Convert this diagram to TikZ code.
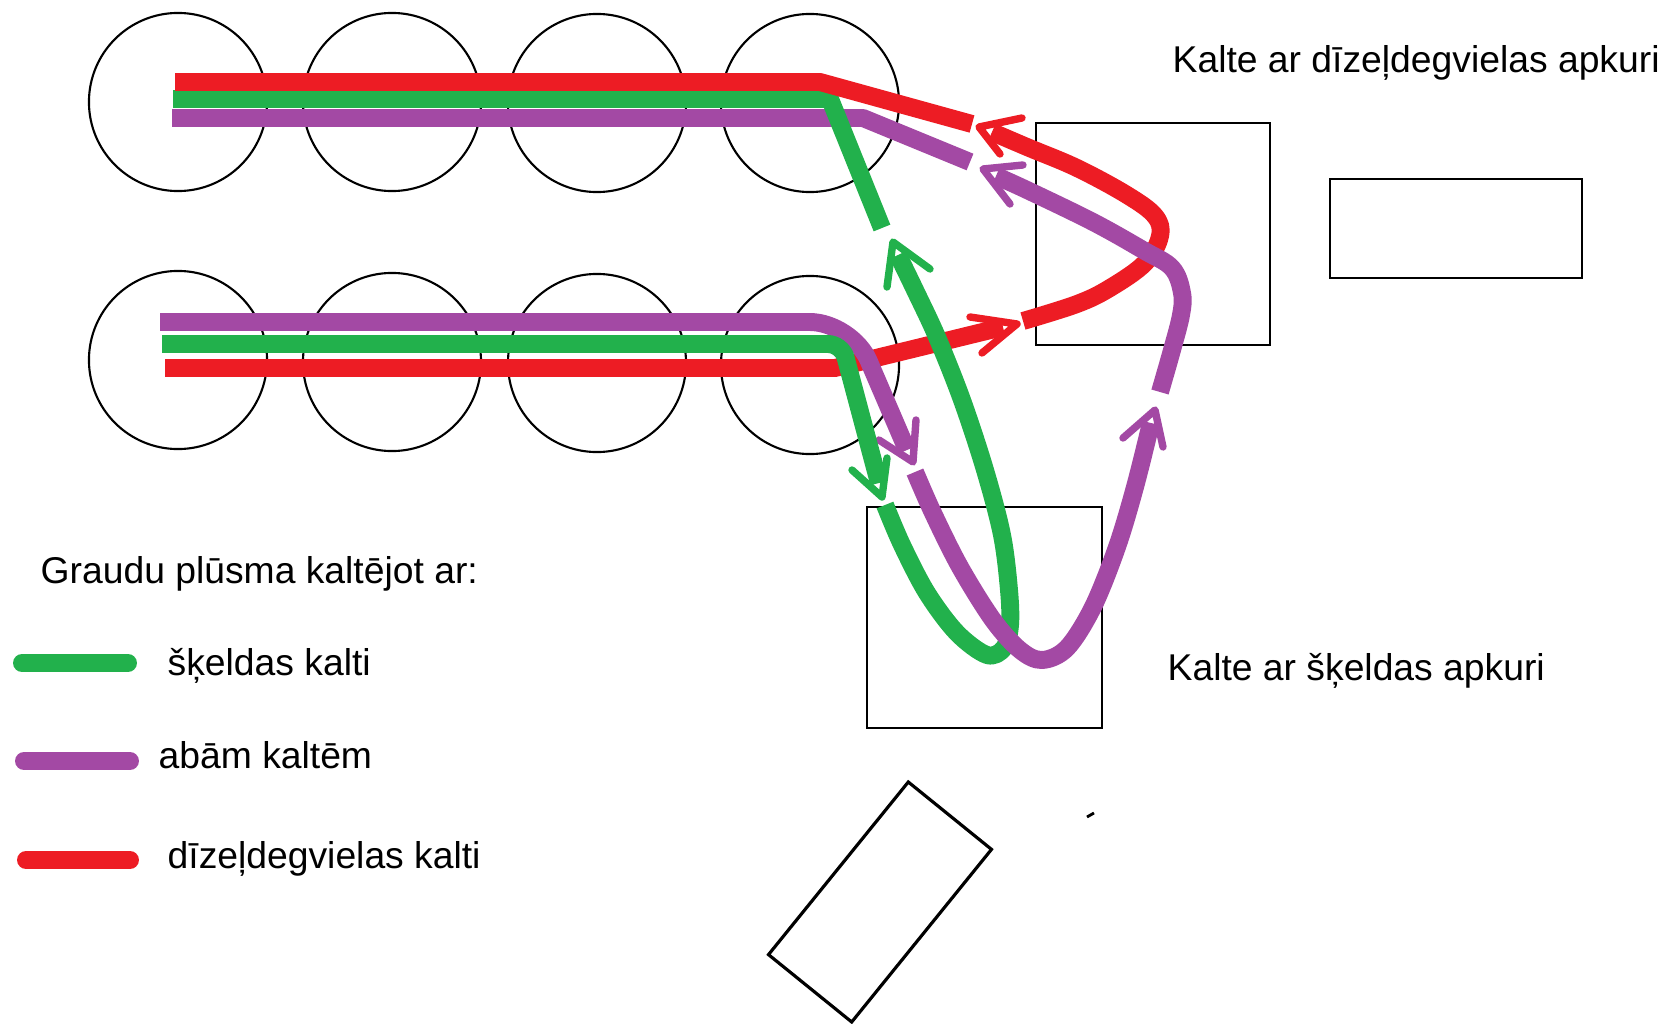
\documentclass[tikz,border=0pt]{standalone}
\usepackage{fontspec}
\setmainfont{Liberation Sans}
\definecolor{pgreen}{HTML}{22B14C}
\definecolor{ppurple}{HTML}{A349A4}
\definecolor{pred}{HTML}{ED1C24}
\begin{document}
\begin{tikzpicture}[x=0.01cm,y=-0.01cm,
  silo/.style={draw=black, line width=0.6pt, circle, minimum size=1.78cm, inner sep=0pt},
  dryer/.style={draw=black, line width=0.8pt, rectangle, inner sep=0pt},
  flow/.style={line width=5.1pt, line join=round},
  barb/.style={line width=2.1pt, line cap=round, line join=round},
  lbl/.style={anchor=base west, inner sep=0pt, font=\fontsize{10.6pt}{12pt}\selectfont, text=black},
  legline/.style={line width=5.1pt, line cap=round}
]
\useasboundingbox (0,0) rectangle (1665,1024);

% silos
\node[silo] (t1) at (178,102) {};
\node[silo] (t2) at (392,102) {};
\node[silo] (t3) at (597,103) {};
\node[silo] (t4) at (810,103) {};
\node[silo] (b1) at (178,360) {};
\node[silo] (b2) at (392,362) {};
\node[silo] (b3) at (597,363) {};
\node[silo] (b4) at (810,365) {};

% dryers and other boxes
\node[dryer, minimum width=2.34cm, minimum height=2.22cm] (dk) at (1153,234) {};
\node[dryer, minimum width=2.52cm, minimum height=0.99cm] (rr) at (1456,228.5) {};
\node[dryer, minimum width=2.35cm, minimum height=2.21cm] (sk) at (984.5,617.5) {};
\node[dryer, minimum width=2.22cm, minimum height=1.07cm, rotate=51, line width=0.9pt] (tr) at (880,902) {};
\coordinate (sp1) at (1087,817);
\coordinate (sp2) at (1094,813);
\draw[line width=0.8pt] (sp1) -- (sp2);

% arrow tips
\coordinate (rtip) at (1017,324);
\coordinate (ptipd) at (913,462);
\coordinate (gtipd) at (882,497);
\coordinate (gtipu) at (893,242);
\coordinate (ptipu) at (1155,410);
\coordinate (rtipl) at (979,127);
\coordinate (ptipl) at (983,169);

% bottom row flows
\draw[flow, pred] (165,368) -- (835,368) -- (1003,327);
\draw[barb, pred] (970,317) -- (rtip) -- (982,353);
\draw[flow, ppurple, rounded corners=12pt] (160,322) -- (852,322) -- (907,450);
\draw[barb, ppurple] (879,440) -- (ptipd) -- (916,420);
\draw[flow, pgreen, rounded corners=4pt] (162,344) -- (842,344) -- (879,483);
\draw[barb, pgreen] (852,470) -- (gtipd) -- (887,458);

% green loop through the chip dryer
\draw[flow, pgreen] plot[smooth, tension=0.55] coordinates {(885,505) (902,545) (927,593) (957,633) (987,655) (1004,648) (1010,625) (1009,590) (1002,535) (985,470) (962,400) (937,337) (915,290) (898,255)};
\draw[barb, pgreen] (887,287) -- (gtipu) -- (930,269);

% red loop through the diesel dryer
\draw[flow, pred] plot[smooth, tension=0.6] coordinates {(1023,321) (1077,304) (1110,288) (1145,263) (1160,236) (1155,216) (1127,195) (1077,168) (1027,147) (992,132)};
\draw[barb, pred] (1022,118) -- (rtipl) -- (1000,154);

% purple loop through the chip dryer and up to the diesel dryer
\draw[flow, ppurple] plot[smooth, tension=0.55] coordinates {(915,472) (933,513) (960,567) (993,620) (1020,650) (1042,660) (1067,648) (1093,607) (1117,547) (1135,487) (1151,423)};
\draw[barb, ppurple] (1123,438) -- (ptipu) -- (1163,447);
\draw[flow, ppurple] plot[smooth, tension=0.6] coordinates {(1160,392) (1172,350) (1181,315) (1182,293) (1172,268) (1143,250) (1093,222) (1027,190) (996,176)};
\draw[barb, ppurple] (1023,165) -- (ptipl) -- (1010,204);

% top row flows
\draw[flow, ppurple] (172,118) -- (863,118) -- (970,162);
\draw[flow, pgreen] (173,99) -- (830,99) -- (882,228);
\draw[flow, pred] (175,82) -- (820,82) -- (972,124);

% labels
\node[lbl] (title) at (1172,72) {Kalte ar dīzeļdegvielas apkuri};
\node[lbl] (sktitle) at (1167,680) {Kalte ar šķeldas apkuri};
\node[lbl] (leg) at (40,583) {Graudu plūsma kaltējot ar:};
\node[lbl] (lg) at (167,675) {šķeldas kalti};
\node[lbl] (lp) at (158,768) {abām kaltēm};
\node[lbl] (lr) at (167,868) {dīzeļdegvielas kalti};

% legend swatches
\coordinate (lg1) at (22,663);  \coordinate (lg2) at (128,663);
\coordinate (lp1) at (24,761);  \coordinate (lp2) at (130,761);
\coordinate (lr1) at (26,860);  \coordinate (lr2) at (130,860);
\draw[legline, pgreen] (lg1) -- (lg2);
\draw[legline, ppurple] (lp1) -- (lp2);
\draw[legline, pred] (lr1) -- (lr2);
\end{tikzpicture}
\end{document}
